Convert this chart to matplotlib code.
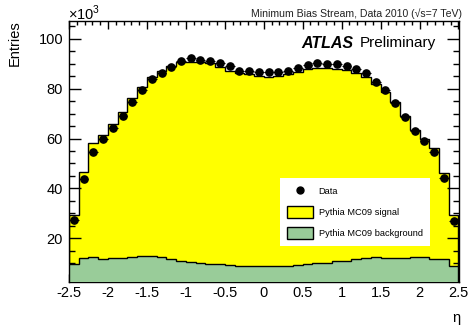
import numpy as np
import matplotlib
matplotlib.use("Agg")
import matplotlib.pyplot as plt
from matplotlib.lines import Line2D
from matplotlib.patches import Patch

plt.rcParams['font.family'] = ['Liberation Sans', 'DejaVu Sans']
plt.rcParams['mathtext.fontset'] = 'custom'
plt.rcParams['mathtext.rm'] = 'Liberation Sans'

# 40 bins in eta, values in units of 10^3 entries
edges = np.linspace(-2.5, 2.5, 41)
data = [27.1, 43.7, 54.4, 59.9, 64.3, 69.2, 74.6, 79.4, 83.8, 86.5,
        88.9, 91.0, 92.4, 91.7, 91.0, 90.5, 89.2, 87.2, 87.2, 86.6,
        86.9, 86.9, 87.3, 88.2, 89.7, 90.4, 90.1, 90.1, 89.3, 88.1,
        86.4, 82.9, 79.4, 74.3, 68.8, 63.1, 59.2, 54.6, 44.3, 26.9]
mc_total = [29.2, 46.5, 58.1, 61.6, 66.0, 70.5, 76.2, 80.7, 84.9, 87.3,
            89.3, 90.6, 90.9, 90.7, 90.5, 88.9, 87.3, 86.2, 85.8, 85.1,
            84.9, 85.1, 85.8, 86.6, 88.1, 88.5, 88.5, 88.1, 87.4, 86.5,
            84.9, 81.9, 78.8, 74.8, 69.1, 63.5, 59.7, 56.1, 46.1, 29.1]
mc_bkg = [9.6, 12.0, 12.4, 11.8, 12.1, 12.2, 12.6, 12.9, 12.9, 12.6,
          11.6, 11.0, 10.5, 10.2, 9.8, 9.7, 9.3, 9.0, 8.9, 8.8,
          8.7, 8.8, 9.0, 9.1, 9.5, 10.0, 10.2, 10.8, 11.0, 11.7,
          12.0, 12.4, 12.1, 12.0, 12.0, 12.4, 12.4, 11.7, 11.7, 9.0]

centers = 0.5 * (edges[1:] + edges[:-1])
half_w = 0.5 * (edges[1] - edges[0])

fig = plt.figure(figsize=(4.69, 3.30), dpi=100)
ax = fig.add_axes([69/469, 1-281.7/330, 389.5/469, 260.7/330])

yellow = '#ffff00'
green = '#99cc99'

ax.stairs(mc_total, edges, fill=True, color=yellow, zorder=1)
ax.stairs(mc_total, edges, color='black', lw=1.0, zorder=2)
ax.stairs(mc_bkg, edges, fill=True, color=green, zorder=3)
ax.stairs(mc_bkg, edges, color='black', lw=1.0, zorder=4)
ax.errorbar(centers, data, xerr=half_w, fmt='o', color='black', ms=5.2,
            elinewidth=0.8, capsize=0, zorder=5)

ax.set_xlim(-2.5, 2.5)
ax.set_ylim(2.5, 107.2)
ax.set_xticks(np.arange(-2.5, 2.51, 0.5))
ax.set_xticklabels(['-2.5', '-2', '-1.5', '-1', '-0.5', '0', '0.5', '1', '1.5', '2', '2.5'])
ax.set_xticks(np.arange(-2.5, 2.51, 0.1), minor=True)
ax.set_yticks([20, 40, 60, 80, 100])
ax.set_yticks(np.arange(5, 106, 5), minor=True)

ax.tick_params(axis='both', which='both', direction='in', top=True, right=True,
               labelsize=10.5, width=1.0, color='black')
ax.tick_params(axis='x', which='major', length=5.6, pad=3)
ax.tick_params(axis='x', which='minor', length=2.8)
ax.tick_params(axis='y', which='major', length=8.4, pad=4.3)
ax.tick_params(axis='y', which='minor', length=4.2)
for s in ax.spines.values():
    s.set_linewidth(1.0)

handles = [Line2D([], [], marker='o', color='black', ls='none', ms=5),
           Patch(facecolor=yellow, edgecolor='black', lw=1.0),
           Patch(facecolor=green, edgecolor='black', lw=1.0)]
labels = ['Data', 'Pythia MC09 signal', 'Pythia MC09 background']
leg = ax.legend(handles, labels, loc='upper left', bbox_to_anchor=(0.5417, 0.3966),
                borderaxespad=0, fontsize=6.7, handlelength=2.8, handleheight=1.58,
                handletextpad=0.6, borderpad=0.75, labelspacing=0.98,
                frameon=True, fancybox=False, framealpha=1, edgecolor='none')
leg.get_frame().set_facecolor('white')
leg.set_zorder(6)

fig.text(461.7/469, 1-14/330, 'Minimum Bias Stream, Data 2010 (√s=7 TeV)',
         ha='right', va='center', fontsize=7.6, color='#222222')
fig.text(301.7/469, 1-43.5/330, 'ATLAS', ha='left', va='center',
         fontsize=11.5, fontweight='bold', fontstyle='italic')
fig.text(360/469, 1-43.5/330, 'Preliminary', ha='left', va='center', fontsize=11)
fig.text(68/469, 1-13/330, r'$\times$10$^{3}$', ha='left', va='center', fontsize=10.5)
fig.text(15/469, 1-20/330, 'Entries', rotation=90, ha='center', va='top', fontsize=10.5)
fig.text(460/469, 1-318/330, 'η', ha='right', va='center', fontsize=10.5)

fig.savefig('out.png', dpi=100)
